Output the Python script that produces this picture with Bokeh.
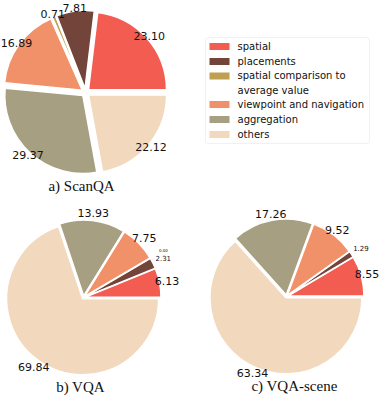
import math
from bokeh.plotting import figure
from bokeh.models import ColumnDataSource, Range1d, BoxAnnotation
from bokeh.core.properties import value
from bokeh.embed import file_html
from bokeh.resources import INLINE

# ---------------- data ----------------
categories = ["spatial", "placements", "spatial comparison to\naverage value",
              "viewpoint and navigation", "aggregation", "others"]
colors = ["#F35C50", "#73443A", "#BEA050", "#F1916A", "#A79F82", "#F2D8BC"]
scanqa_values = [23.10, 7.81, 0.71, 16.89, 29.37, 22.12]
vqa_values = [6.13, 2.31, 0.00, 7.75, 13.93, 69.84]
vqa_scene_values = [8.55, 1.29, 0.00, 9.52, 17.26, 63.34]
titles = ["a) ScanQA", "b) VQA", "c) VQA-scene"]

# ---------------- layout ----------------
W, H = 382, 396


def X(px):
    return px


def Y(py):
    return H - py


p = figure(width=W, height=H, x_range=Range1d(0, W), y_range=Range1d(0, H),
           output_backend="svg", toolbar_location=None, min_border=0,
           x_axis_type=None, y_axis_type=None)
p.grid.visible = False
p.outline_line_color = None

pies = [
    dict(values=scanqa_values, title=titles[0], cx=85, cy=92, r=78, e=4.0,
         lab=1.04, small=0.0, zero_label=False, txy=(81, 185)),
    dict(values=vqa_values, title=titles[1], cx=83, cy=297, r=76, e=1.5,
         lab=1.1, small=3.0, zero_label=True, txy=(80, 386)),
    dict(values=vqa_scene_values, title=titles[2], cx=286, cy=296, r=76, e=1.5,
         lab=1.08, small=3.0, zero_label=False, txy=(294, 385)),
]

for pie in pies:
    vals = pie["values"]
    total = sum(vals)
    cum = 0.0
    wx, wy, s_a, e_a, cols = [], [], [], [], []
    lx, ly, ltxt, lsize = [], [], [], []
    for v, c in zip(vals, colors):
        a0 = 2 * math.pi * cum / total
        a1 = 2 * math.pi * (cum + v) / total
        cum += v
        mid = (a0 + a1) / 2
        ox = X(pie["cx"]) + pie["e"] * math.cos(mid)
        oy = Y(pie["cy"]) + pie["e"] * math.sin(mid)
        if v > 0:
            wx.append(ox); wy.append(oy); s_a.append(a0); e_a.append(a1); cols.append(c)
        if v == 0 and not pie["zero_label"]:
            continue
        if v == 0:
            k, fs = 1.2, "4px"
        elif v < pie["small"]:
            k, fs = 1.15, "7px"
        else:
            k, fs = pie["lab"], "11px"
        lx.append(ox + k * pie["r"] * math.cos(mid))
        ly.append(oy + k * pie["r"] * math.sin(mid))
        ltxt.append(f"{v:.2f}")
        lsize.append(fs)
    src = ColumnDataSource(dict(x=wx, y=wy, start=s_a, end=e_a, color=cols))
    p.wedge(x="x", y="y", radius=pie["r"], start_angle="start", end_angle="end",
            fill_color="color", line_color="white", line_width=1.5, source=src)
    lsrc = ColumnDataSource(dict(x=lx, y=ly, text=ltxt, size=lsize))
    p.text(x="x", y="y", text="text", text_font_size="size", source=lsrc,
           text_font=value("DejaVu Sans"), text_color="#111111",
           text_align="center", text_baseline="middle")
    p.text(x=[X(pie["txy"][0])], y=[Y(pie["txy"][1])], text=[pie["title"]],
           text_font=value("Liberation Serif"), text_font_size="15px",
           text_color="#111111", text_align="center", text_baseline="middle")

# ---------------- legend ----------------
box = BoxAnnotation(left=X(205), right=X(369), top=Y(37), bottom=Y(143),
                    fill_color="white", fill_alpha=1.0, line_color="#d0d0d0",
                    line_width=1, border_radius=3, level="underlay")
p.add_layout(box)

rows = [46, 61, 75.5, 104, 119, 134]
text_rows = [46, 61, 82.5, 104, 119, 134]
p.quad(left=[X(209)] * 6, right=[X(229)] * 6,
       top=[Y(r - 3.5) for r in rows], bottom=[Y(r + 3.5) for r in rows],
       fill_color=colors, line_color=None)
p.text(x=[X(237)] * 6, y=[Y(r) for r in text_rows], text=categories,
       text_font=value("DejaVu Sans"), text_font_size="10px",
       text_color="#111111", text_align="left", text_baseline="middle",
       text_line_height=1.42)

open("out.html", "w").write(file_html(p, INLINE))
